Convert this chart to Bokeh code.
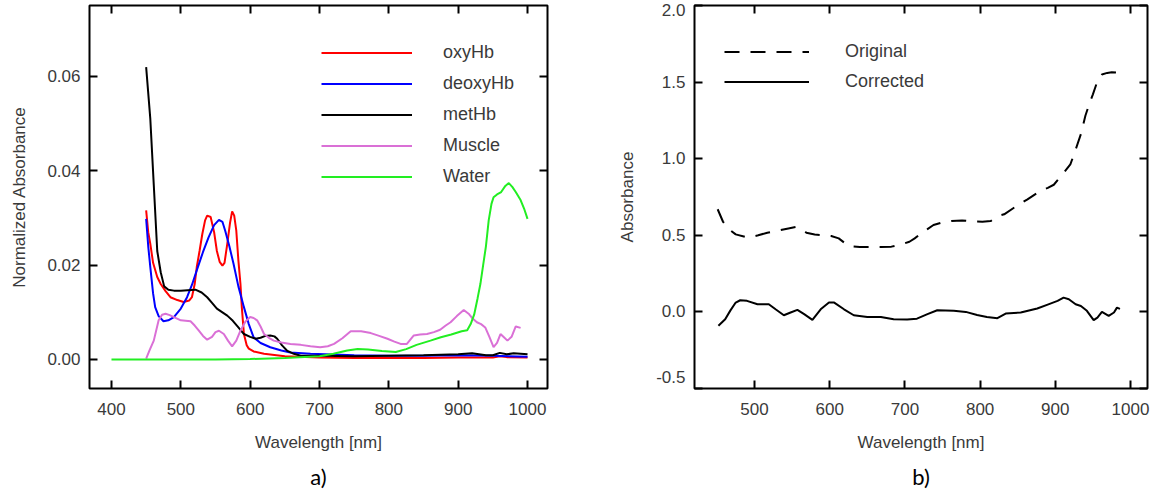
from bokeh.plotting import figure
from bokeh.layouts import row
from bokeh.models import (Legend, LegendItem, FixedTicker, LinearAxis, Title,
                          CustomJSTickFormatter)
from bokeh.embed import file_html
from bokeh.resources import INLINE

# ---------------- data: panel a) ----------------
oxy_wl = [450, 453, 456, 460, 466, 471, 478, 485, 495, 504, 512, 516, 520, 523, 527, 531, 535, 538, 543,
          548, 552, 556, 560, 563, 567, 571, 574, 577, 580, 583, 586, 588, 591, 595, 598, 605, 620, 650,
          700, 750, 800, 850, 900, 950, 960, 970, 1000]
oxy_val = [0.0316, 0.027, 0.0245, 0.0205, 0.0175, 0.016, 0.0145, 0.0132, 0.0126, 0.0122, 0.0125, 0.0132,
           0.016, 0.0196, 0.023, 0.0266, 0.0295, 0.0305, 0.0302, 0.027, 0.023, 0.0207, 0.0199, 0.0205,
           0.0245, 0.029, 0.0314, 0.0305, 0.0273, 0.021, 0.016, 0.011, 0.0054, 0.003, 0.0023, 0.0017,
           0.0012, 0.0007, 0.0004, 0.0003, 0.0003, 0.0003, 0.0004, 0.0004, 0.0007, 0.0005, 0.0004]

deoxy_wl = [450, 453, 456, 460, 463, 468, 475, 482, 490, 500, 509, 516, 523, 532, 540, 548, 555, 560,
            564, 570, 576, 583, 591, 598, 605, 615, 629, 645, 658, 687, 750, 800, 850, 900, 950, 1000]
deoxy_val = [0.0298, 0.024, 0.0196, 0.014, 0.0111, 0.0092, 0.0081, 0.0083, 0.009, 0.0108, 0.0132, 0.0158,
             0.0189, 0.0228, 0.0259, 0.0285, 0.0296, 0.0292, 0.0273, 0.024, 0.0203, 0.0155, 0.0111,
             0.0075, 0.0047, 0.0035, 0.0026, 0.0019, 0.0015, 0.0012, 0.0009, 0.0008, 0.0008, 0.0009,
             0.0008, 0.0006]

met_wl = [450, 456, 461, 466, 471, 476, 482, 490, 500, 510, 521, 530, 538, 545, 552, 560, 567, 575, 583,
          591, 600, 608, 615, 622, 629, 635, 639, 646, 653, 663, 673, 687, 700, 750, 800, 850, 900, 920,
          940, 950, 960, 970, 980, 990, 1000]
met_val = [0.062, 0.051, 0.037, 0.023, 0.0185, 0.0155, 0.0148, 0.0146, 0.0146, 0.0147, 0.0148, 0.0142,
           0.0132, 0.012, 0.0108, 0.0100, 0.0093, 0.0082, 0.0068, 0.0054, 0.0048, 0.0044, 0.0046, 0.0050,
           0.0051, 0.0049, 0.0044, 0.0030, 0.0019, 0.0012, 0.0008, 0.0008, 0.0008, 0.0007, 0.0008,
           0.0009, 0.0011, 0.0013, 0.0009, 0.0009, 0.0014, 0.0011, 0.0013, 0.0012, 0.0011]

muscle_wl = [450, 455, 461, 468, 473, 478, 484, 490, 500, 514, 520, 526, 532, 538, 545, 550, 555, 562,
             568, 574, 580, 586, 593, 600, 605, 610, 615, 620, 627, 634, 645, 658, 673, 687, 701, 712,
             721, 733, 745, 760, 774, 786, 798, 808, 817, 826, 831, 836, 845, 855, 865, 874, 882, 889,
             898, 908, 915, 920, 927, 933, 939, 945, 951, 956, 961, 966, 971, 977, 983, 990]
muscle_val = [0.0002, 0.002, 0.004, 0.0083, 0.0095, 0.0097, 0.0094, 0.009, 0.0083, 0.0081, 0.0072,
              0.0061, 0.005, 0.0042, 0.0048, 0.0058, 0.0061, 0.0054, 0.004, 0.0028, 0.004, 0.0061,
              0.0080, 0.009, 0.0088, 0.0083, 0.007, 0.0054, 0.0046, 0.004, 0.0036, 0.0033, 0.0031,
              0.0028, 0.0026, 0.0028, 0.0033, 0.0045, 0.006, 0.006, 0.0056, 0.005, 0.0044, 0.0038,
              0.0033, 0.0033, 0.0042, 0.0051, 0.0053, 0.0054, 0.0058, 0.0063, 0.0072, 0.0079, 0.0092,
              0.0105, 0.0097, 0.0088, 0.0079, 0.0075, 0.0068, 0.0048, 0.0026, 0.0035, 0.0054, 0.0047,
              0.004, 0.0048, 0.007, 0.0067]

water_wl = [400, 450, 500, 550, 600, 650, 700, 720, 740, 755, 770, 790, 810, 825, 840, 860, 875, 890,
            905, 913, 918, 923, 928, 932, 936, 940, 944, 948, 951, 956, 962, 968, 973, 978, 983, 990,
            995, 1000]
water_val = [0, 0, 0, 0, 0.0001, 0.0003, 0.0007, 0.0012, 0.0019, 0.0022, 0.0021, 0.0018, 0.0016,
             0.0022, 0.0031, 0.004, 0.0047, 0.0053, 0.006, 0.0062, 0.0075, 0.0095, 0.013, 0.016, 0.020,
             0.024, 0.0295, 0.033, 0.0344, 0.035, 0.0355, 0.0368, 0.0374, 0.0366, 0.0355, 0.0338,
             0.032, 0.0298]

series_a = ["oxyHb", "deoxyHb", "metHb", "Muscle", "Water"]
colors_a = ["#ff0000", "#0000ff", "#000000", "#da70d6", "#22ee22"]
ticks_a_x = [400, 500, 600, 700, 800, 900, 1000]
ticks_a_y = [0.0, 0.02, 0.04, 0.06]

# ---------------- data: panel b) ----------------
orig_wl = [451, 458, 466, 475, 491, 505, 517, 531, 545, 555, 563, 569, 580, 588, 602, 612, 625, 640,
           654, 668, 682, 695, 706, 713, 720, 730, 738, 748, 762, 776, 790, 803, 814, 824, 832, 845,
           863, 880, 890, 898, 910, 920, 925, 934, 940, 945, 950, 956, 962, 969, 975, 986]
orig_val = [0.67, 0.59, 0.54, 0.506, 0.485, 0.50, 0.517, 0.53, 0.545, 0.554, 0.54, 0.517, 0.505, 0.502,
            0.495, 0.48, 0.43, 0.424, 0.424, 0.424, 0.426, 0.44, 0.458, 0.48, 0.506, 0.54, 0.567,
            0.582, 0.593, 0.597, 0.59, 0.589, 0.593, 0.626, 0.637, 0.68, 0.735, 0.79, 0.81, 0.83, 0.9,
            0.963, 1.03, 1.16, 1.28, 1.354, 1.42, 1.506, 1.55, 1.56, 1.565, 1.56]

corr_wl = [452, 461, 468, 475, 481, 490, 504, 519, 528, 539, 548, 557, 566, 577, 588, 599, 606, 619,
           632, 650, 668, 685, 703, 716, 730, 743, 765, 781, 796, 809, 823, 834, 854, 876, 889, 903,
           911, 918, 927, 934, 942, 951, 956, 962, 971, 978, 982, 986]
corr_val = [-0.091, -0.048, 0.01, 0.061, 0.076, 0.072, 0.05, 0.05, 0.017, -0.022, -0.004, 0.013,
            -0.015, -0.052, 0.017, 0.061, 0.061, 0.017, -0.022, -0.033, -0.033, -0.048, -0.05, -0.044,
            -0.015, 0.011, 0.007, 0.0, -0.02, -0.033, -0.041, -0.011, -0.004, 0.022, 0.046, 0.072,
            0.093, 0.083, 0.05, 0.039, 0.007, -0.054, -0.037, 0.0, -0.026, -0.004, 0.028, 0.02]

series_b = ["Original", "Corrected"]
ticks_b_x = [500, 600, 700, 800, 900, 1000]
ticks_b_y = [-0.5, 0.0, 0.5, 1.0, 1.5, 2.0]

# ---------------- styling ----------------
FONT = "Liberation Sans"
TXT = "#3a3a3a"
TICK_FS = "17px"
LAB_FS = "17px"
BLANK = CustomJSTickFormatter(code="return '';")


def frame_axes(p, xticks, yticks, yfmt, ylab_standoff):
    p.grid.visible = False
    p.outline_line_color = "black"
    p.outline_line_width = 2
    for ax in (p.xaxis[0], p.yaxis[0]):
        ax.axis_line_color = None
        ax.major_tick_in = 8
        ax.major_tick_out = 0
        ax.major_tick_line_width = 2
        ax.minor_tick_line_color = None
        ax.major_label_text_font = FONT
        ax.major_label_text_font_size = TICK_FS
        ax.major_label_text_color = TXT
        ax.axis_label_text_font = FONT
        ax.axis_label_text_font_size = LAB_FS
        ax.axis_label_text_font_style = "normal"
        ax.axis_label_text_color = TXT
    p.xaxis[0].ticker = FixedTicker(ticks=xticks)
    p.yaxis[0].ticker = FixedTicker(ticks=yticks)
    p.yaxis[0].formatter = yfmt
    p.xaxis[0].major_label_standoff = 14
    p.xaxis[0].axis_label_standoff = 15
    p.yaxis[0].major_label_standoff = 9
    p.yaxis[0].axis_label_standoff = ylab_standoff
    # mirrored inward ticks on top and right
    for loc, tk in (("above", xticks), ("right", yticks)):
        ax = LinearAxis(ticker=FixedTicker(ticks=tk), formatter=BLANK, axis_line_color=None,
                        major_tick_in=8, major_tick_out=0, major_tick_line_width=2,
                        minor_tick_line_color=None, major_label_standoff=0)
        p.add_layout(ax, loc)


# ---------------- panel a ----------------
pa = figure(frame_width=458, frame_height=383, min_border_left=89, min_border_right=40,
            min_border_top=5, min_border_bottom=100, x_range=(368.3, 1028.8),
            y_range=(-0.00615, 0.07505), output_backend="svg", toolbar_location=None)
pa.xaxis.axis_label = "Wavelength [nm]"
pa.yaxis.axis_label = "Normalized Absorbance"
frame_axes(pa, ticks_a_x, ticks_a_y,
           CustomJSTickFormatter(code="return tick.toFixed(2);"), 15)

xs_a = [oxy_wl, deoxy_wl, met_wl, muscle_wl, water_wl]
ys_a = [oxy_val, deoxy_val, met_val, muscle_val, water_val]
items_a = []
for name, col, xs, ys in zip(series_a, colors_a, xs_a, ys_a):
    r = pa.line(xs, ys, line_color=col, line_width=2)
    items_a.append(LegendItem(label=name, renderers=[r]))

leg_a = Legend(items=items_a, location=(232, 201), glyph_width=91, glyph_height=21,
               label_height=21, label_standoff=31, spacing=10, padding=0, margin=0,
               border_line_color=None, background_fill_alpha=0, label_text_font=FONT,
               label_text_font_size="18px", label_text_color=TXT)
pa.add_layout(leg_a)
pa.add_layout(Title(text="a)", align="center", text_font="Lato", text_font_size="22px",
                    text_font_style="normal", text_color="black", standoff=12), "below")

# ---------------- panel b ----------------
xb0, xb1 = 420.2, 1022.6
pb = figure(frame_width=453, frame_height=383, min_border_left=107, min_border_right=10,
            min_border_top=5, min_border_bottom=100, x_range=(xb0, xb1),
            y_range=(-0.5, 2.0), output_backend="svg", toolbar_location=None)
pb.xaxis.axis_label = "Wavelength [nm]"
pb.yaxis.axis_label = "Absorbance"
# the bottom end label (-0.5) sits a little above its tick, as in the original
frame_axes(pb, ticks_b_x, ticks_b_y,
           CustomJSTickFormatter(code="""
               const s = tick.toFixed(1);
               if (tick < -0.49) return s + '\\n ';
               return s;"""),
           16)

r_orig = pb.line(orig_wl, orig_val, line_color="black", line_width=2, line_dash="15 11")
r_corr = pb.line(corr_wl, corr_val, line_color="black", line_width=2)
leg_b = Legend(items=[LegendItem(label=series_b[0], renderers=[r_orig]),
                      LegendItem(label=series_b[1], renderers=[r_corr])],
               location=(30, 296), glyph_width=85, glyph_height=21, label_height=21,
               label_standoff=36, spacing=9, padding=0, margin=0, border_line_color=None,
               background_fill_alpha=0, label_text_font=FONT, label_text_font_size="18px",
               label_text_color=TXT)
pb.add_layout(leg_b)
pb.add_layout(Title(text="b)", align="center", text_font="Lato", text_font_size="22px",
                    text_font_style="normal", text_color="black", standoff=12), "below")

layout = row(pa, pb)
open("out.html", "w").write(file_html(layout, INLINE))
